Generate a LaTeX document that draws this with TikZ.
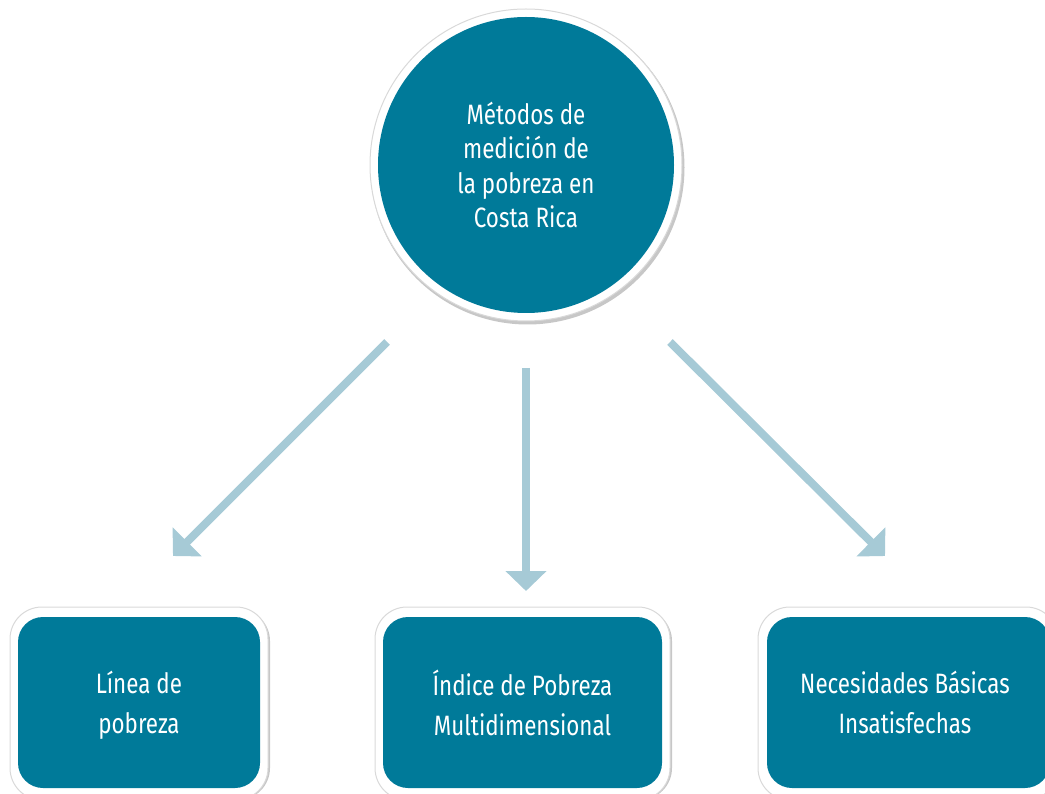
\documentclass[tikz,border=0pt]{standalone}
\usepackage{fontspec}
\setmainfont{Fira Sans}[FakeStretch=0.8]
\usetikzlibrary{arrows.meta}
\definecolor{teal}{RGB}{0,122,153}
\definecolor{arrowblue}{RGB}{166,202,214}
\tikzset{
  ring/.style={fill=white, draw=black!15, line width=1pt},
  tealfill/.style={fill=teal, draw=none, text=white, align=center, font=\fontsize{28}{34.5}\selectfont},
  boxtext/.style={font=\fontsize{28}{40}\selectfont},
  flow/.style={draw=arrowblue, line width=8pt, -{Triangle[width=40pt,length=20pt]}},
}
\begin{document}
\begin{tikzpicture}[x=1pt,y=-1pt]
\useasboundingbox (0,0) rectangle (1045,794);
\clip (0,0) rectangle (1045,794);
% central circle
\fill[black!22] (527.5,167.5) circle (157);
\node[ring, circle, minimum size=312pt, inner sep=0pt] (hub) at (526,165) {};
\node[tealfill, circle, minimum size=296pt, inner sep=0pt] (hubin) at (526,165) {Métodos de\\medición de\\la pobreza en\\Costa Rica};
% boxes
\fill[black!22, rounded corners=32pt] (11.5,609) rectangle (270,800);
\draw[ring, rounded corners=32pt] (10,607) rectangle (268,800);
\fill[teal, rounded corners=25pt] (18,617) rectangle (260,788);
\node[tealfill, boxtext] (lp) at (139,705.5) {Línea de\\pobreza};
\fill[black!22, rounded corners=32pt] (376.5,609) rectangle (672,800);
\draw[ring, rounded corners=32pt] (375,607) rectangle (670,800);
\fill[teal, rounded corners=25pt] (383,617) rectangle (662,788);
\node[tealfill, boxtext] (ipm) at (522.5,702.5) {Índice de Pobreza\\Multidimensional};
\fill[black!22, rounded corners=32pt] (759.5,609) rectangle (1060,800);
\draw[ring, rounded corners=32pt] (758,607) rectangle (1058,800);
\fill[teal, rounded corners=25pt] (767,617) rectangle (1050,788);
\node[tealfill, boxtext] (nbi) at (905,702.5) {Necesidades Básicas\\Insatisfechas};
% arrows
\coordinate (a1s) at (387,342);
\coordinate (a1e) at (173,556);
\coordinate (a2s) at (526,368);
\coordinate (a2e) at (526,591);
\coordinate (a3s) at (670,342);
\coordinate (a3e) at (885,556);
\draw[flow] (a1s) -- (a1e);
\draw[flow] (a2s) -- (a2e);
\draw[flow] (a3s) -- (a3e);
\end{tikzpicture}
\end{document}
